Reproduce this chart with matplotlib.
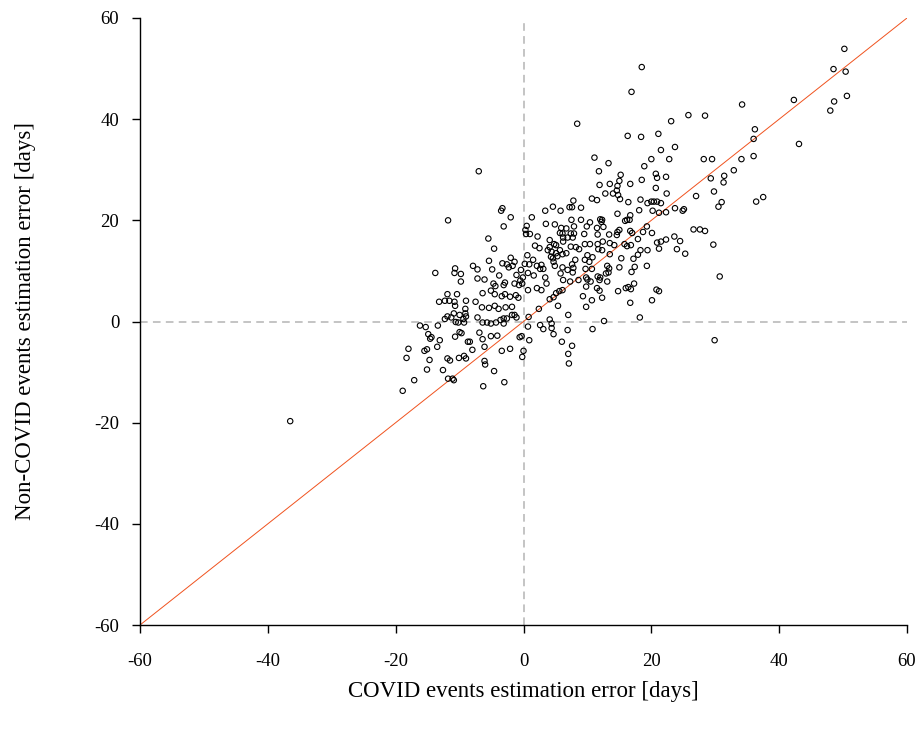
import matplotlib
matplotlib.use("Agg")
import matplotlib.pyplot as plt

plt.rcParams['font.family'] = ['Liberation Serif', 'DejaVu Serif']
plt.rcParams['axes.unicode_minus'] = False
plt.rcParams['lines.scale_dashes'] = False

points = [
    (18.5,50.3),(16.9,45.4),(8.4,39.1),(23.1,39.6),(25.8,40.8),(28.4,40.7),(16.3,36.7),(18.4,36.5),
    (21.1,37.1),(21.5,33.9),(23.7,34.5),(11.1,32.4),(20.0,32.1),(22.8,32.1),(28.2,32.1),
    (50.2,53.9),(48.5,49.9),(50.4,49.4),(50.6,44.6),(48.6,43.5),(48.0,41.7),(42.3,43.8),(34.2,42.9),
    (36.2,38.0),(36.0,36.1),(43.1,35.1),(36.0,32.7),(34.1,32.1),(29.5,32.1),
    (32.9,29.9),(31.4,28.8),(31.3,27.5),(29.3,28.3),(29.8,25.7),(31.0,23.6),(30.5,22.7),(36.4,23.7),
    (37.5,24.6),(28.4,17.9),(29.7,15.2),(30.7,8.9),(29.9,-3.7),
    (13.3,31.3),(18.9,30.7),(11.8,29.7),(15.2,29.0),(20.7,29.2),(20.9,28.4),(22.3,28.6),(15.0,27.8),
    (11.9,27.0),(13.5,27.2),(16.7,27.2),(18.5,28.0),(14.7,26.8),(20.7,26.4),(14.6,25.9),(12.8,25.3),
    (14.0,25.3),(14.8,25.0),(22.4,25.3),(27.0,24.8),(10.7,24.3),(11.5,24.0),(15.1,24.2),(16.4,23.6),
    (18.3,24.1),(19.4,23.4),(20.0,23.7),(20.4,23.7),(20.9,23.7),(21.5,23.4),(7.8,23.9),(4.6,22.7),
    (7.2,22.6),(7.6,22.6),(9.0,22.5),(5.8,21.9),(18.1,22.0),(20.2,21.9),(21.2,21.5),(22.3,21.6),
    (23.7,22.4),(24.9,21.9),(25.1,22.2),(14.7,21.3),(16.7,21.0),(7.5,20.1),(9.0,20.1),(12.0,20.2),
    (12.3,20.1),(12.2,19.7),(15.9,19.9),(16.2,20.1),(16.6,20.1),(4.9,19.2),(5.9,18.5),(6.7,18.4),
    (7.9,18.8),(10.4,19.6),(9.9,18.8),(11.5,18.5),(12.5,18.7),(15.0,18.1),(14.7,17.7),(16.7,17.9),
    (17.0,17.5),(19.3,18.8),(20.1,17.5),(26.6,18.2),(27.6,18.2),
    (6.1,17.4),(7.4,17.4),(7.9,17.4),(6.2,16.6),(6.9,16.6),(7.7,16.6),(9.5,17.3),(11.6,17.2),
    (13.4,17.2),(14.6,17.1),(17.9,16.3),(18.7,17.7),(20.9,15.6),(21.5,15.8),(22.3,16.2),(23.6,16.8),
    (24.5,15.9),(21.2,14.4),(24.0,14.3),(25.3,13.4),(4.1,16.1),(4.8,15.3),(5.1,15.1),(6.2,15.8),
    (4.1,14.7),(7.4,14.8),(8.2,14.7),(9.6,15.3),(10.4,15.3),(11.6,15.3),(12.4,15.8),(13.5,15.5),
    (14.2,15.1),(15.8,15.3),(16.2,14.9),(16.8,15.1),(17.9,13.2),(19.4,14.1),(18.3,14.1),(4.4,13.8),
    (5.1,13.5),(5.7,14.1),(6.1,13.3),(6.7,13.5),(5.3,12.9),(8.7,14.3),(10.0,13.1),(10.8,12.7),
    (11.7,14.3),(12.3,14.1),(13.5,13.3),(15.3,12.5),(17.2,12.4),(19.3,11.0),(15.0,10.7),(13.4,10.5),
    (13.1,11.0),(9.6,12.2),(10.3,11.8),(9.7,10.4),(10.7,10.4),(8.1,12.2),(7.6,11.3),(7.8,10.6),
    (6.1,10.7),(6.9,10.2),(4.7,11.8),(4.9,11.0),(16.9,9.8),(5.8,9.5),(7.7,9.7),(11.6,8.9),
    (12.0,8.7),(12.9,9.5),(13.3,9.7),(9.8,8.7),(10.0,8.3),(5.7,17.5),(17.4,10.8),
    (6.2,8.2),(8.6,8.2),(10.5,7.9),(11.9,8.2),(13.1,7.9),(7.3,7.9),(9.8,6.9),(11.5,6.6),
    (11.9,6.1),(14.8,6.0),(16.0,6.6),(16.4,6.8),(16.8,6.4),(17.3,7.5),(16.7,3.7),(20.1,4.2),
    (20.8,6.3),(21.2,6.0),(9.3,5.0),(12.3,4.7),(10.7,4.2),(9.8,2.9),(5.4,3.1),(5.1,5.6),
    (5.6,6.0),(6.1,6.2),(4.7,4.8),(4.1,4.4),(7.0,1.3),(12.6,0.1),(18.2,0.8),(10.8,-1.5),
    (6.9,-1.7),(4.1,0.4),(4.4,-0.4),(4.4,-1.3),(4.7,-2.5),(6.0,-4.0),(7.6,-4.8),(7.0,-6.4),(7.1,-8.3),
    (-7.0,29.7),(-11.8,20.0),(-3.3,22.4),(-3.5,21.9),(-2.0,20.6),(1.3,20.6),(-3.1,18.8),(0.5,18.9),
    (0.3,18.1),(0.4,17.3),(1.0,17.3),(3.4,21.9),(3.5,19.3),(2.2,16.8),(-5.5,16.4),(-4.6,14.4),
    (1.8,15.0),(2.5,14.5),(3.8,14.1),(4.3,12.8),(4.6,12.5),(-5.4,12.0),(0.6,13.1),(-2.0,12.6),
    (1.5,12.2),(-3.3,11.5),(-2.6,11.3),(-1.4,11.8),(-2.3,10.7),(-1.7,11.0),(-4.9,10.3),(-7.9,11.0),
    (-7.2,10.3),(-10.7,10.5),(-10.8,9.6),(-9.8,9.4),(-13.8,9.6),(-0.4,10.2),(0.2,11.4),(0.9,11.3),
    (2.1,11.0),(2.8,11.2),(3.1,10.4),(2.6,10.4),(-1.1,9.2),(-0.1,8.7),(0.7,9.6),(1.6,9.1),
    (-3.8,9.1),(-7.2,8.5),(-6.1,8.3),(3.4,8.7),
    (-9.8,7.9),(-4.7,7.5),(-4.4,7.0),(-3.1,7.2),(-2.9,7.7),(-1.4,7.5),(-0.7,7.2),(-0.2,7.5),
    (-0.5,8.1),(0.7,6.2),(2.1,6.6),(2.8,6.2),(3.6,7.5),(-11.9,5.4),(-10.4,5.4),(-13.2,3.9),
    (-12.3,4.1),(-11.6,4.1),(-10.8,3.9),(-10.7,3.1),(-9.0,4.1),(-7.5,3.9),(-6.4,5.6),(-5.1,6.1),
    (-4.5,5.4),(-3.4,5.0),(-2.9,5.4),(-2.1,4.9),(-1.2,5.2),(-0.8,4.7),(-6.5,2.8),(-5.4,2.7),
    (-4.5,3.1),(-3.9,2.5),(-2.8,2.8),(-1.8,2.9),(-9.1,2.5),(-9.1,1.6),(-9.0,1.0),(-10.0,1.3),
    (-10.9,1.6),(-11.9,1.0),(-12.3,0.5),(-11.3,0.8),(-10.6,-0.1),(-10.2,-0.2),(-9.4,0.5),(-9.3,-0.2),
    (-7.2,0.8),(-6.4,-0.2),(-5.7,-0.2),(-5.1,-0.4),(-4.3,-0.2),(-3.6,0.3),(-3.1,0.6),(-2.6,0.6),
    (-3.1,-0.4),(-1.8,1.3),(-1.4,1.3),(-1.1,0.8),(0.8,0.9),(2.4,2.5),(2.6,-0.7),(3.1,-1.5),
    (-16.2,-0.8),(-15.3,-1.1),(-13.4,-0.8),(-14.9,-2.5),(-14.4,-3.1),(-14.6,-3.4),(-13.1,-3.7),
    (-10.7,-3.0),(-9.7,-2.3),(-10.0,-2.1),(-8.7,-4.0),(-8.4,-4.0),(-6.9,-2.2),(-6.4,-3.5),
    (-5.1,-2.9),(-4.1,-2.8),(-6.1,-5.0),(-8.0,-5.6),(-9.3,-6.8),(-9.0,-7.3),(-10.1,-7.2),
    (-11.9,-7.3),(-13.5,-5.0),(-15.5,-5.8),(-15.1,-5.5),(-18.0,-5.4),(-18.3,-7.2),(-14.7,-7.6),
    (-11.5,-7.7),(-6.1,-7.8),(-6.0,-8.5),(-3.4,-5.8),(-2.1,-5.4),(0.0,-5.8),(-0.2,-7.0),
    (-0.6,-3.1),(-0.3,-2.9),(0.9,-3.7),(0.7,-1.0),(-15.1,-9.5),(-12.6,-9.6),(-4.6,-9.8),
    (-11.8,-11.3),(-10.9,-11.6),(-11.1,-11.3),(-17.1,-11.6),(-3.0,-12.0),(-6.3,-12.8),(-18.9,-13.7),
    (-36.5,-19.7),
]
covid_err = [p[0] for p in points]
noncovid_err = [p[1] for p in points]

ticks = [-60, -40, -20, 0, 20, 40, 60]
xlabel = "COVID events estimation error [days]"
ylabel = "Non-COVID events estimation error [days]"

fig = plt.figure(figsize=(9.23, 7.30), dpi=100)
ax = fig.add_axes([140/923, 1-625/730, (907-140)/923, (625-18)/730])

ax.axvline(0, color='#C4C4C4', lw=1.4, dashes=(5.5, 3.8), zorder=1)
ax.axhline(0, color='#C4C4C4', lw=1.4, dashes=(5.5, 3.8), zorder=1)
ax.plot([-60, 60], [-60, 60], color='#F0521E', lw=0.7, zorder=2)
ax.scatter(covid_err, noncovid_err, s=15, facecolors='none', edgecolors='black',
           linewidths=0.8, zorder=3)

ax.set_xlim(-60, 60)
ax.set_ylim(-60, 60)
ax.set_xticks(ticks)
ax.set_yticks(ticks)
ax.set_xticklabels([str(t) for t in ticks])
ax.set_yticklabels([str(t) for t in ticks])
ax.tick_params(direction='out', length=6, width=1, labelsize=13.5)
ax.tick_params(axis='x', pad=14)
ax.tick_params(axis='y', pad=9)
for s in ['top', 'right']:
    ax.spines[s].set_visible(False)
for s in ['left', 'bottom']:
    ax.spines[s].set_linewidth(1)
ax.set_xlabel(xlabel, fontsize=16.5)
ax.set_ylabel(ylabel, fontsize=16.5)
ax.xaxis.set_label_coords(0.5, -0.092)
ax.yaxis.set_label_coords(-0.136, 0.5)

fig.savefig("out.png", dpi=100)
